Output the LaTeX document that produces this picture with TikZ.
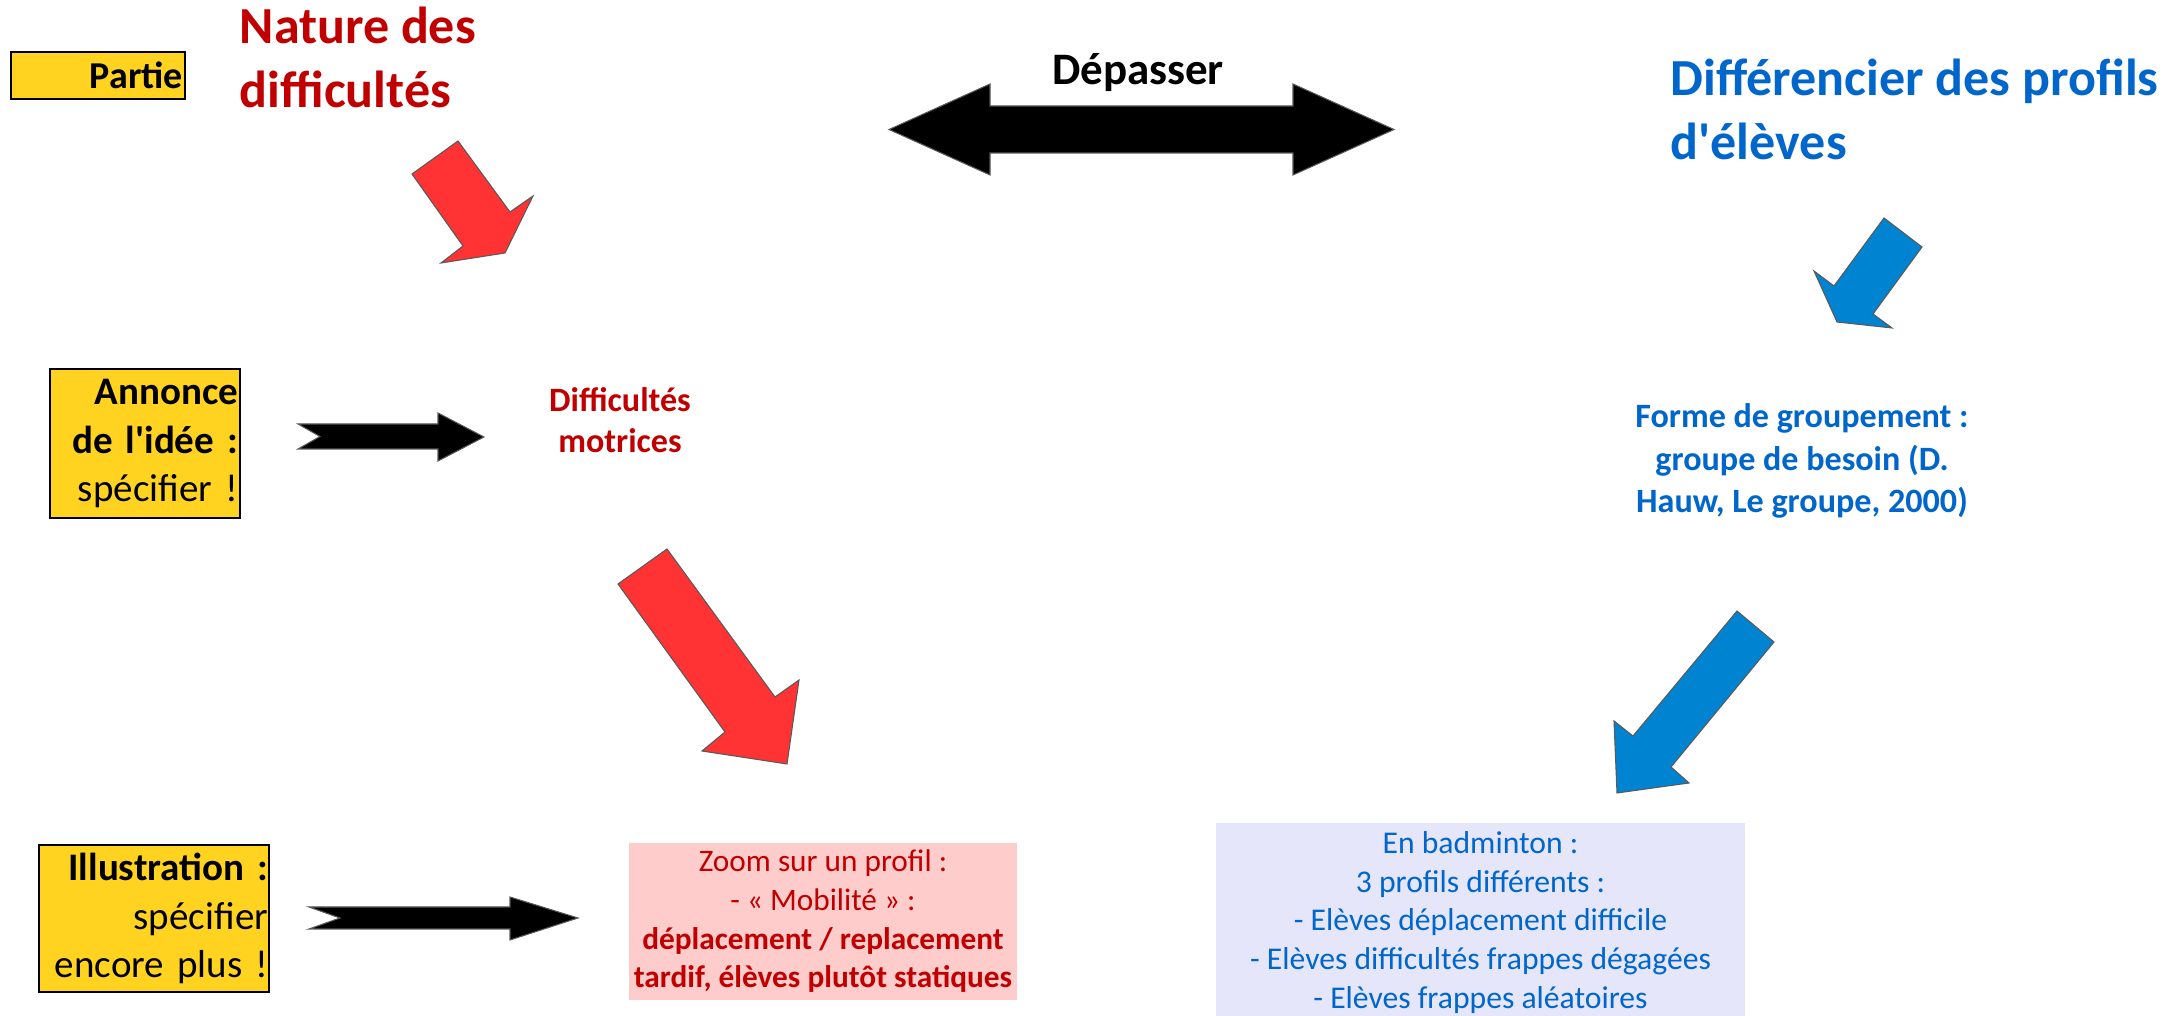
\documentclass[tikz,border=0pt]{standalone}
\usepackage{fontspec}
\setmainfont{Carlito}[Ligatures=TeXOff]
\definecolor{ybox}{HTML}{FFD320}
\definecolor{darkred}{HTML}{C00000}
\definecolor{tblue}{HTML}{0066CC}
\definecolor{ared}{HTML}{FF3333}
\definecolor{ablue}{HTML}{0084D1}
\definecolor{pinkbox}{HTML}{FFCCCC}
\definecolor{lavbox}{HTML}{E6E6FA}
\tikzset{
  titletext/.style={font=\fontsize{14.8}{18.2}\selectfont\bfseries, inner sep=0pt},
  stepbox/.style={draw=black, line width=0.5pt, fill=ybox, inner xsep=0.02cm, inner ysep=0pt, align=right},
  boxtext/.style={font=\fontsize{11.1}{13.85}\selectfont},
  blockarrow/.style={draw=gray!70!black, line width=0.3pt},
  midtext/.style={font=\fontsize{9.7}{11.8}\selectfont\bfseries, inner sep=0pt, align=center},
}
\begin{document}
\begin{tikzpicture}[x=0.01cm, y=-0.01cm]
\useasboundingbox (0,0) rectangle (2184,1016);

% titles (anchor = baseline of last line)
\node[titletext, text=darkred, anchor=base west, align=left] (nature) at (239,108) {Nature des\\difficultés};
\node[titletext, text=tblue, anchor=base west, align=left] (profils) at (1670,160) {Différencier des profils\\d'élèves};
\node[font=\fontsize{12.8}{15}\selectfont\bfseries, inner sep=0pt, anchor=base] (depasser) at (1138,85) {Dépasser};

% double arrow
\fill[black, blockarrow] (889,129.5) -- (990,84) -- (990,106) -- (1293,106) -- (1293,84) -- (1394,129.5) -- (1293,175) -- (1293,153) -- (990,153) -- (990,175) -- cycle;

% left yellow boxes
\node[stepbox, minimum width=1.74cm, minimum height=0.47cm, text width=1.70cm, font=\fontsize{10.8}{13}\selectfont\bfseries] (partie) at (98,75.5) {Partie};
\node[stepbox, boxtext, minimum width=1.90cm, minimum height=1.49cm, text width=1.86cm] (annonce) at (145,443.5) {\textbf{Annonce}\\\textbf{de l'idée :}\\spécifier !};
\node[stepbox, boxtext, minimum width=2.30cm, minimum height=1.47cm, text width=2.28cm, inner xsep=0.01cm] (illus) at (154,918.5) {\textbf{Illustration :}\\spécifier\\encore plus !};

% black notched arrows
\fill[black, blockarrow] (298,424) -- (320,436.5) -- (298,449) -- (438,449) -- (438,461) -- (484,437) -- (438,413) -- (438,424) -- cycle;
\fill[black, blockarrow] (309,907) -- (340,918) -- (309,929) -- (510,929) -- (510,940) -- (578,918) -- (510,897) -- (510,907) -- cycle;

% middle texts (anchor = baseline of last line)
\node[midtext, text=darkred, anchor=base] (motrices) at (620,453) {Difficultés\\motrices};
\node[midtext, text=tblue, anchor=base, font=\fontsize{9.7}{12.2}\selectfont\bfseries] (groupement) at (1802,513) {Forme de groupement :\\groupe de besoin (D.\\Hauw, Le groupe, 2000)};

% red block arrows
\fill[ared, blockarrow] (412,174) -- (458,141) -- (510,212) -- (533,196) -- (505,253) -- (441,263) -- (463,246) -- cycle;
\fill[ared, blockarrow] (618,584) -- (667,549) -- (775,697) -- (799,680) -- (787,764) -- (702,751) -- (725,732) -- cycle;

% blue block arrows
\fill[ablue, blockarrow] (1884,218) -- (1922,247) -- (1873,314) -- (1892,328) -- (1837,322) -- (1814,271) -- (1834,286) -- cycle;
\fill[ablue, blockarrow] (1737,611) -- (1774,642) -- (1671,767) -- (1689,783) -- (1617,793) -- (1614,721) -- (1633,736) -- cycle;

% bottom boxes
\node[fill=pinkbox, text=darkred, minimum width=3.88cm, minimum height=1.57cm, inner sep=0pt, align=center, font=\fontsize{8.9}{11}\selectfont] (zoom) at (823,921.5) {Zoom sur un profil :\\- « Mobilité » :\\\textbf{déplacement / replacement}\\\textbf{tardif, élèves plutôt statiques}};
\node[fill=lavbox, text=tblue, minimum width=5.29cm, minimum height=1.99cm, inner sep=0pt, align=center, font=\fontsize{9.0}{11.05}\selectfont] (badminton) at (1480.5,922.5) {En badminton :\\3 profils différents :\\- Elèves déplacement difficile\\- Elèves difficultés frappes dégagées\\- Elèves frappes aléatoires};
\end{tikzpicture}
\end{document}
